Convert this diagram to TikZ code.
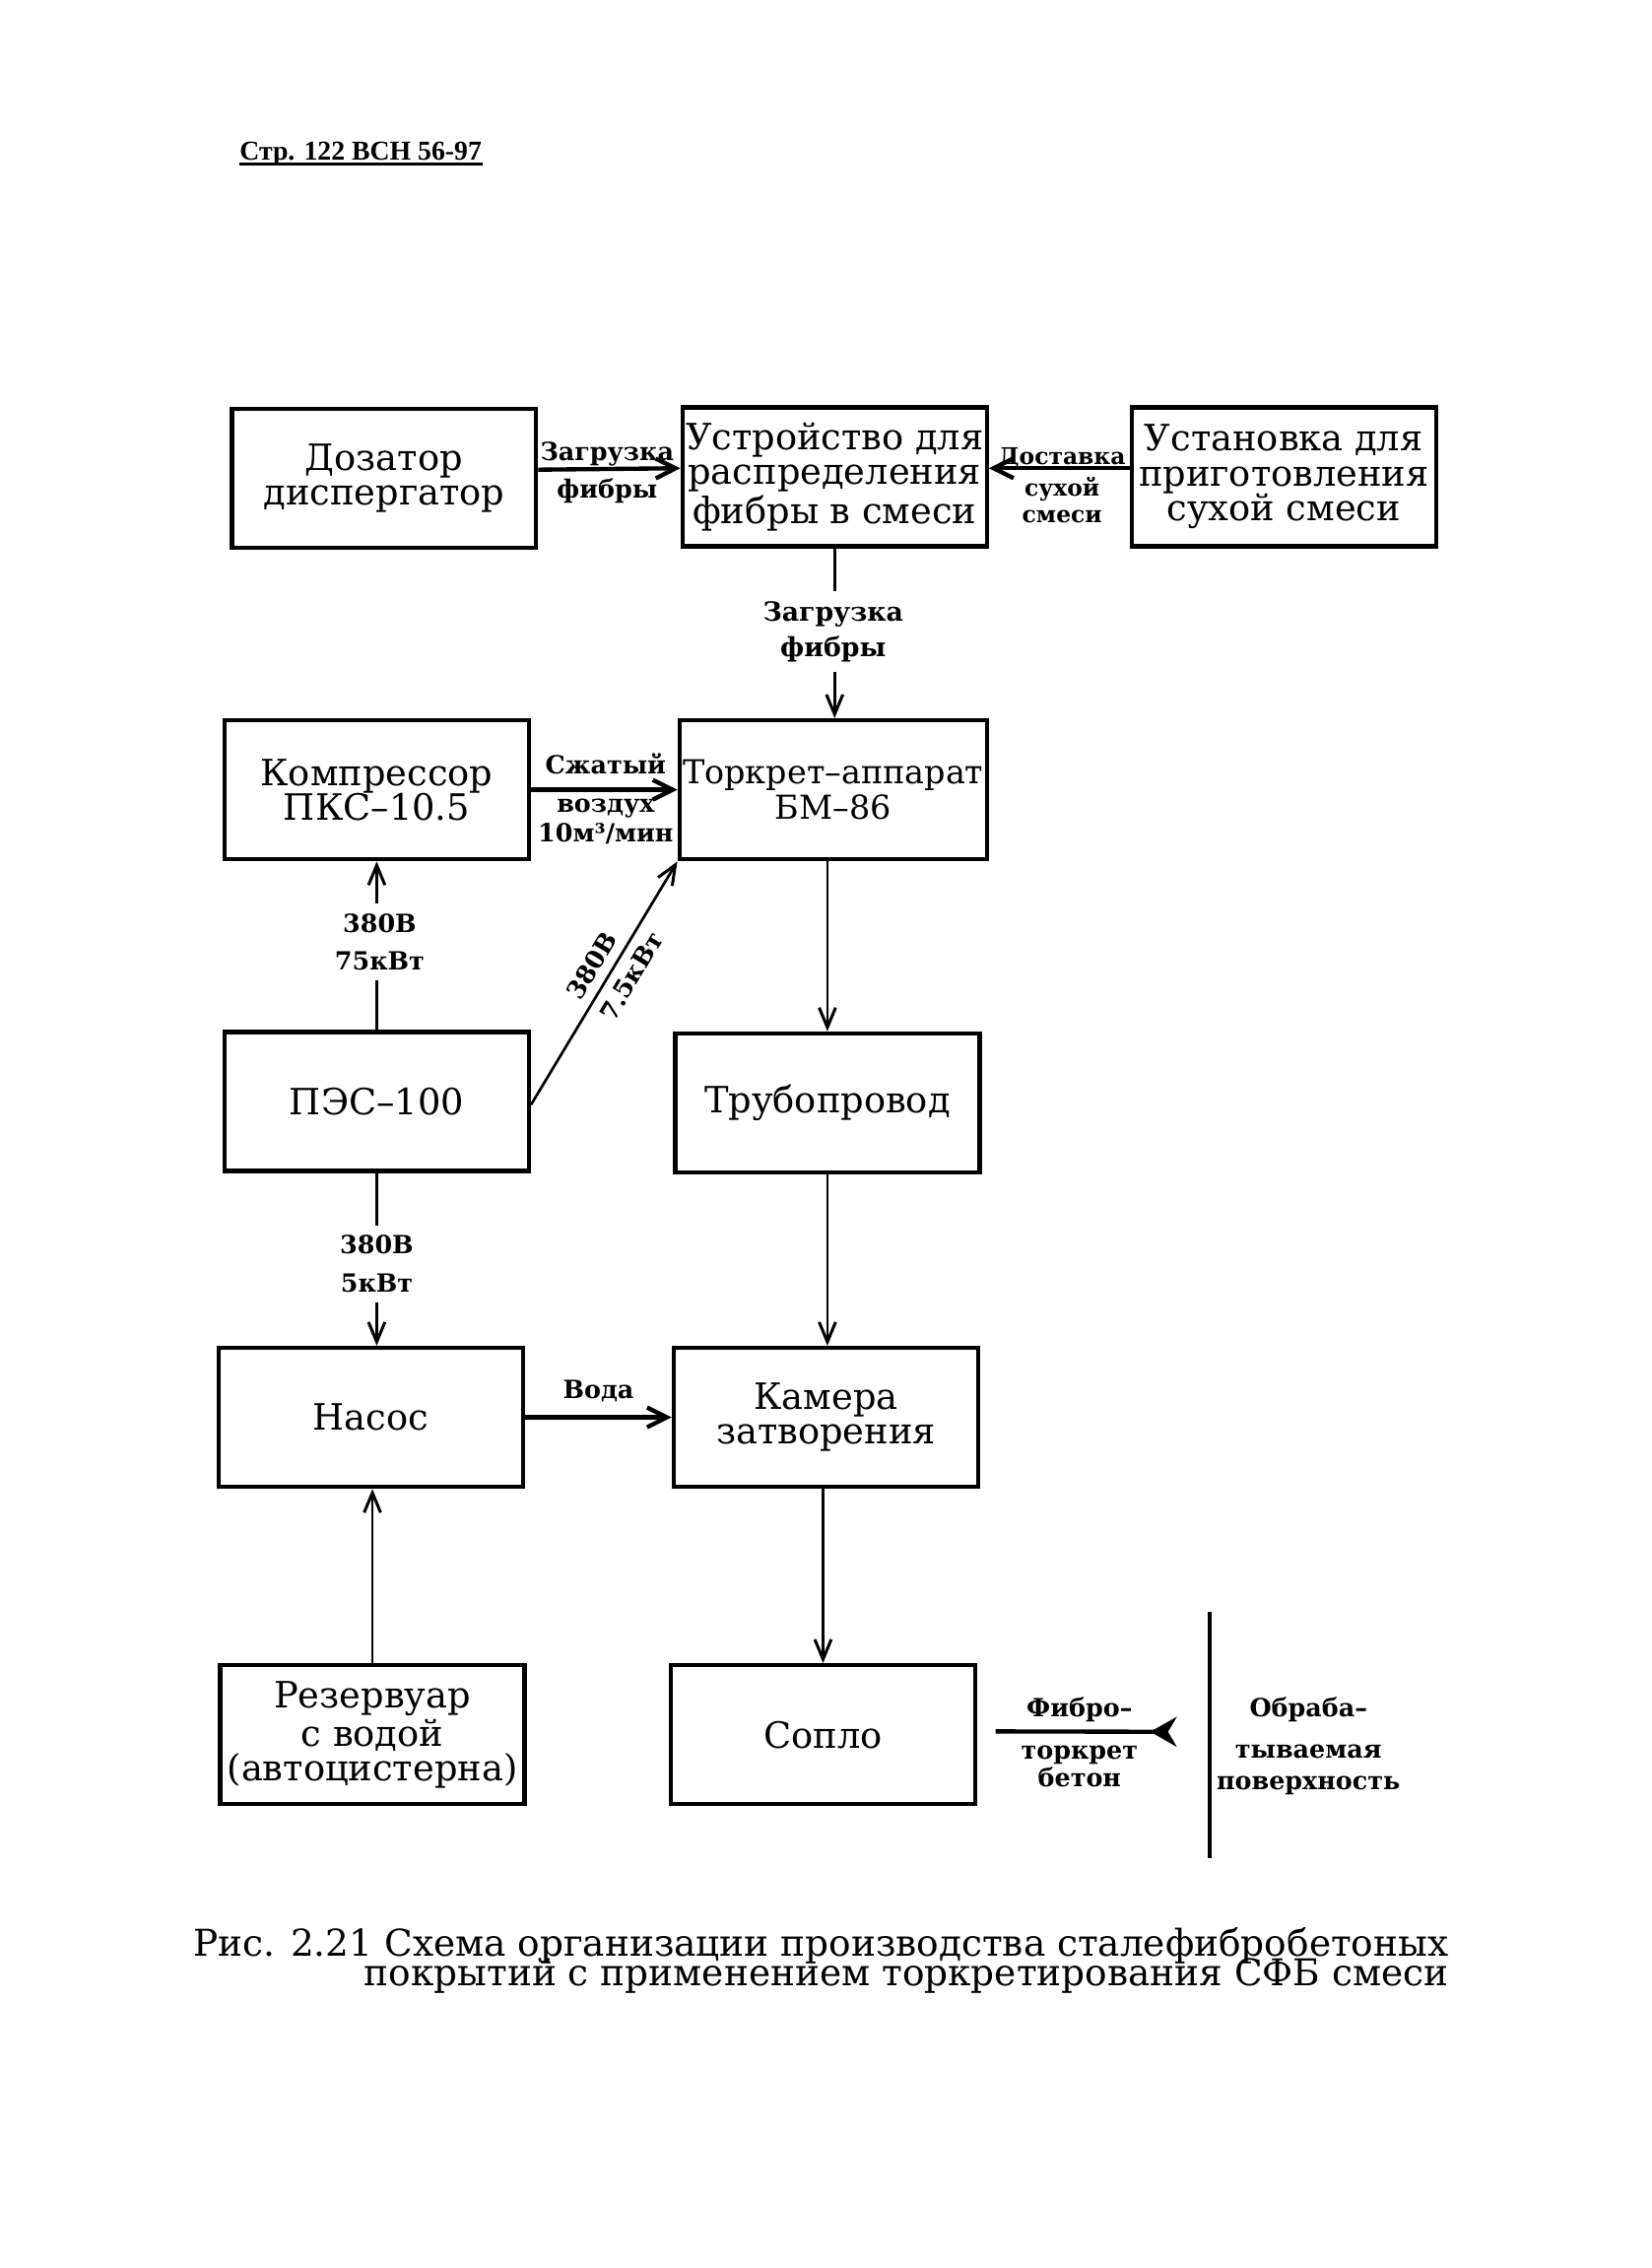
\documentclass[tikz,border=0pt]{standalone}
\usepackage{fontspec}
\setmainfont{DejaVu Serif}
\newfontfamily\hdrfont{Liberation Serif}
\usetikzlibrary{arrows.meta}
\newcommand\mytightlines{\lineskiplimit=-20pt\relax\lineskip=0pt\relax}
\tikzset{
  box/.style={draw, line width=1.3pt, minimum width=92.4pt, minimum height=42.2pt,
    align=center, inner sep=1pt, font=\fontsize{11}{10.6}\selectfont},
  lbl/.style={align=center, inner sep=1pt, font=\bfseries\fontsize{7.6}{11.5}\selectfont},
  arr/.style={line width=0.8pt, -{Straight Barb[length=6pt,width=5pt,line width=0.9pt]}},
  harr/.style={line width=1.3pt, -{Straight Barb[length=6pt,width=6pt,line width=1.3pt]}},
}
\begin{document}
\begin{tikzpicture}[x=0.44pt,y=-0.44pt]
\useasboundingbox[fill=white] (0,0) rectangle (1140,1565);
% header
\node[anchor=west, inner sep=0pt, font=\hdrfont\bfseries\fontsize{8.3}{10}\selectfont] (hdr) at (165,106) {Стр. 122 ВСН 56-97};
\draw[line width=0.9pt] ([yshift=-1.2pt]hdr.base west) -- ([yshift=-1.2pt]hdr.base east);
% boxes
\node[box] (doz)  at (265,330) {Дозатор\\диспергатор};
\node[box] (ustr) at (576,329) {Устройство для\\распределения\\фибры в смеси};
\node[box] (ust)  at (886,329) {Установка для\\приготовления\\сухой смеси};
\node[box] (komp) at (260,545) {Компрессор\\ПКС–10.5};
\node[box, font=\fontsize{10}{10.6}\selectfont] (tork) at (575,545) {Торкрет–аппарат\\БМ–86};
\node[box] (pes)  at (260,760) {ПЭС–100};
\node[box] (trub) at (571,761) {Трубопровод};
\node[box] (nasos) at (256,978) {Насос};
\node[box] (kam)  at (570,978) {Камера\\затворения};
\node[box] (rez)  at (257,1197) {Резервуар\\с водой\\(автоцистерна)};
\node[box] (sop)  at (568,1197) {Сопло};
% top row arrows
\draw[harr] ([yshift=2.6pt]doz.east) -- ([yshift=2.6pt]ustr.west);
\node[lbl] (l1) at (419,326) {Загрузка\\фибры};
\draw[harr] ([yshift=2.6pt]ust.west) -- ([yshift=2.6pt]ustr.east);
\node[lbl, font=\bfseries\fontsize{7}{8}\selectfont] (l2) at (733,335) {Доставка\\[1.5pt]сухой\\смеси};
% vertical from ustr to tork
\draw[arr] (ustr.south) -- (ustr.south |- tork.north);
\node[lbl, fill=white, inner sep=3pt, font=\bfseries\fontsize{8}{11}\selectfont] (l3) at (575,436) {Загрузка\\фибры};
% compressor to torkret
\draw[harr] (komp.east) -- (tork.west);
\node[lbl] (l4a) at (418,527) {Сжатый};
\node[lbl, font=\bfseries\fontsize{7.6}{8.8}\selectfont] (l4b) at (418,567) {воздух\\10м³/мин};
% pes to komp
\draw[arr] (pes.north) -- (komp.south);
\node[lbl, fill=white, inner sep=3pt] (l5) at (262,650) {380В\\75кВт};
% pes to tork diagonal
\draw[arr] ([yshift=-1pt]pes.east) -- (tork.south west)
  node[pos=0.53, sloped, above, lbl, inner sep=2.8pt] {380В}
  node[pos=0.57, sloped, below, lbl, inner sep=2.8pt] {7.5кВт};
% tork to trub
\draw[arr] (tork.south -| trub.north) -- (trub.north);
% pes to nasos
\draw[arr] (pes.south) -- (pes.south |- nasos.north);
\node[lbl, fill=white, inner sep=3pt] (l6) at (260,872) {380В\\5кВт};
% trub to kam
\draw[arr] (trub.south) -- (trub.south |- kam.north);
% nasos to kam
\draw[harr] (nasos.east) -- (kam.west);
\node[lbl] (l7) at (413,960) {Вода};
% rez to nasos
\draw[arr] (rez.north) -- (rez.north |- nasos.south);
% kam to sop
\draw[arr] (kam.south -| sop.north) -- (sop.north);
% fibro-torkret
\coordinate (fB) at (812,1195);
\draw[line width=1.3pt, -{Stealth[reversed,length=8pt,width=9pt]}] ([xshift=5.5pt,yshift=1pt]sop.east) -- (fB);
\node[lbl] (l8a) at (745,1180) {Фибро–};
\node[lbl, font=\bfseries\fontsize{7.6}{8.2}\selectfont] (l8b) at (745,1219) {торкрет\\бетон};
% surface
\coordinate (s1) at (835,1112);
\coordinate (s2) at (835,1282);
\draw[line width=1.1pt] (s1) -- (s2);
\node[lbl] (l9a) at (903,1180) {Обраба–};
\node[lbl, font=\bfseries\fontsize{7.6}{9.5}\selectfont] (l9b) at (903,1221) {тываемая\\поверхность};
% caption
\node[anchor=east, align=right, inner sep=0pt, font=\fontsize{11.2}{9}\selectfont\mytightlines] (cap) at (1000,1353)
  {Рис. 2.21 Схема организации производства сталефибробетоных\\покрытий с применением торкретирования СФБ смеси};
\end{tikzpicture}
\end{document}
